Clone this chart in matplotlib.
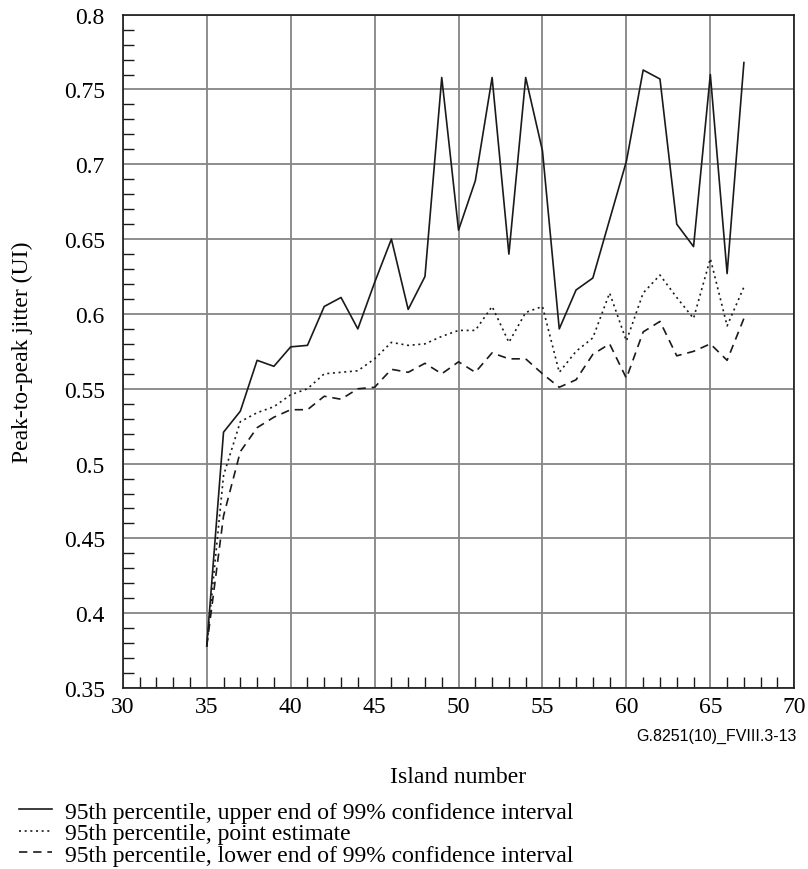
import matplotlib.pyplot as plt
from matplotlib.ticker import MultipleLocator

plt.rcParams['font.family'] = ['Liberation Serif', 'DejaVu Serif']

# island numbers
islands = list(range(35, 68))

# 95th percentile, upper end of 99% confidence interval
upper = [0.378, 0.521, 0.535, 0.569, 0.565, 0.578, 0.579, 0.605, 0.611, 0.590,
         0.621, 0.650, 0.603, 0.625, 0.758, 0.656, 0.689, 0.758, 0.640, 0.758,
         0.709, 0.590, 0.616, 0.624, 0.663, 0.702, 0.763, 0.757, 0.660, 0.645,
         0.760, 0.627, 0.768]

# 95th percentile, point estimate
point = [0.378, 0.492, 0.528, 0.534, 0.538, 0.546, 0.550, 0.560, 0.561, 0.562,
         0.570, 0.581, 0.579, 0.580, 0.585, 0.589, 0.589, 0.605, 0.581, 0.601,
         0.605, 0.561, 0.575, 0.584, 0.614, 0.582, 0.614, 0.626, 0.611, 0.597,
         0.637, 0.592, 0.618]

# 95th percentile, lower end of 99% confidence interval
lower = [0.378, 0.465, 0.508, 0.524, 0.531, 0.536, 0.536, 0.545, 0.543, 0.550,
         0.551, 0.563, 0.561, 0.567, 0.560, 0.568, 0.561, 0.574, 0.570, 0.570,
         0.560, 0.551, 0.556, 0.573, 0.580, 0.557, 0.588, 0.595, 0.572, 0.575,
         0.580, 0.569, 0.597]

labels = ['95th percentile, upper end of 99% confidence interval',
          '95th percentile, point estimate',
          '95th percentile, lower end of 99% confidence interval']

fig = plt.figure(figsize=(8.08, 8.70), dpi=100)
ax = fig.add_axes([0.152, 0.208, 0.831, 0.774])

l1, = ax.plot(islands, upper, color='#1a1a1a', lw=1.2, linestyle='-')
l2, = ax.plot(islands, point, color='#1a1a1a', lw=1.2, linestyle=(0, (1.2, 2.2)))
l3, = ax.plot(islands, lower, color='#1a1a1a', lw=1.2, linestyle=(0, (5, 3.5)))

ax.set_xlim(30, 70)
ax.set_ylim(0.35, 0.8)
ax.xaxis.set_major_locator(MultipleLocator(5))
ax.xaxis.set_minor_locator(MultipleLocator(1))
ax.yaxis.set_minor_locator(MultipleLocator(0.01))
ax.set_yticks([0.35, 0.4, 0.45, 0.5, 0.55, 0.6, 0.65, 0.7, 0.75, 0.8])
ax.set_yticklabels(['0.35', '0.4', '0.45', '0.5', '0.55', '0.6', '0.65', '0.7', '0.75', '0.8'])

ax.grid(True, which='major', color='#858585', lw=1.3)
ax.tick_params(which='major', length=0, labelsize=17, pad=13)
ax.tick_params(axis='x', which='major', pad=6)
ax.tick_params(which='minor', direction='in', length=8, width=1.0, color='#1a1a1a')
for s in ax.spines.values():
    s.set_color('#1a1a1a')
    s.set_linewidth(1.2)

ax.set_xlabel('Island number', fontsize=17, labelpad=35)
ax.set_ylabel('Peak-to-peak jitter (UI)', fontsize=17, labelpad=22)

fig.text(0.986, 0.154, 'G.8251(10)_FVIII.3-13', family='Liberation Sans',
         fontsize=11.5, ha='right', va='center')

fig.legend([l1, l2, l3], labels, loc='upper left', bbox_to_anchor=(0.012, 0.089),
           frameon=False, fontsize=17, handlelength=1.4, handletextpad=0.55,
           labelspacing=0.0, borderaxespad=0)

fig.savefig('out.png', dpi=100)
